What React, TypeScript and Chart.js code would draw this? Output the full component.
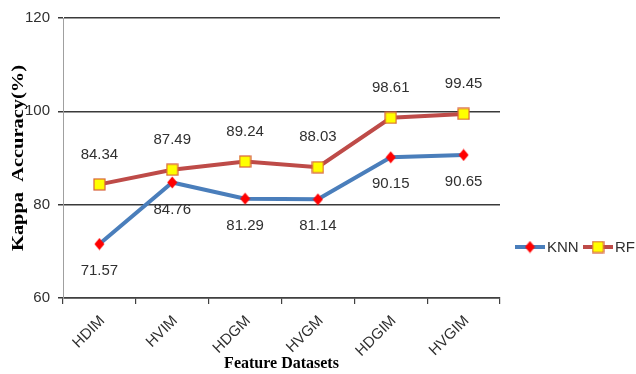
import React, { useEffect, useRef } from "react";
import { Chart, registerables } from "chart.js";

Chart.register(...registerables);

const categories = ["HDIM", "HVIM", "HDGM", "HVGM", "HDGIM", "HVGIM"];
const knnValues = [71.57, 84.76, 81.29, 81.14, 90.15, 90.65];
const rfValues = [84.34, 87.49, 89.24, 88.03, 98.61, 99.45];
const yTicks = [60, 80, 100, 120];

const W = 636;
const H = 374;
const SANS = "'Liberation Sans', Arial, sans-serif";
const SERIF = "'Liberation Serif', 'Times New Roman', serif";
const TEXT = "#303030";
const BLUE = "#4a7ebb";
const RED = "#be4b48";

function makeDiamond(): HTMLCanvasElement {
  const c = document.createElement("canvas");
  c.width = 11;
  c.height = 13;
  const g = c.getContext("2d")!;
  g.fillStyle = "#ff0000";
  g.beginPath();
  g.moveTo(5.5, 0.5);
  g.lineTo(10.5, 6.5);
  g.lineTo(5.5, 12.5);
  g.lineTo(0.5, 6.5);
  g.closePath();
  g.fill();
  return c;
}

function makeSquare(): HTMLCanvasElement {
  const c = document.createElement("canvas");
  c.width = 13;
  c.height = 13;
  const g = c.getContext("2d")!;
  g.fillStyle = "#ffff00";
  g.fillRect(1, 1, 11, 11);
  g.strokeStyle = "#d8603a";
  g.lineWidth = 1.2;
  g.strokeRect(1, 1, 11, 11);
  return c;
}

export default function App() {
  const ref = useRef<HTMLCanvasElement | null>(null);

  useEffect(() => {
    document.body.style.margin = "0";
    const canvas = ref.current;
    if (!canvas) return;
    const diamond = makeDiamond();
    const square = makeSquare();

    const labelsPlugin = {
      id: "valueLabels",
      afterDatasetsDraw(chart: any) {
        const ctx = chart.ctx;
        ctx.save();
        ctx.font = `15px ${SANS}`;
        ctx.fillStyle = TEXT;
        ctx.textAlign = "center";
        ctx.textBaseline = "middle";
        chart.data.datasets.forEach((ds: any, i: number) => {
          const meta = chart.getDatasetMeta(i);
          meta.data.forEach((pt: any, j: number) => {
            const dy = i === 0 ? 27 : -30;
            ctx.fillText(ds.data[j].toFixed(2), pt.x, pt.y + dy);
          });
        });
        ctx.restore();
      },
    };

    const decorPlugin = {
      id: "decor",
      afterDraw(chart: any) {
        const ctx = chart.ctx;
        const area = chart.chartArea;
        ctx.save();
        // axis titles
        ctx.fillStyle = "#000";
        ctx.font = `bold 16px ${SERIF}`;
        ctx.textAlign = "center";
        ctx.textBaseline = "middle";
        ctx.fillText("Feature Datasets", (area.left + area.right) / 2, 364);

        const yTitle = "Kappa  Accuracy(%)";
        ctx.save();
        ctx.translate(19, (area.top + area.bottom) / 2);
        ctx.rotate(-Math.PI / 2);
        const tw = ctx.measureText(yTitle).width;
        ctx.scale(186 / tw, 1);
        ctx.fillText(yTitle, 0, 0);
        ctx.restore();

        // legend
        const ly = 247;
        const entries = [
          { x: 515, color: BLUE, img: diamond, text: "KNN" },
          { x: 583, color: RED, img: square, text: "RF" },
        ];
        ctx.font = `15px ${SANS}`;
        ctx.textAlign = "left";
        ctx.fillStyle = TEXT;
        entries.forEach((e) => {
          ctx.strokeStyle = e.color;
          ctx.lineWidth = 4;
          ctx.beginPath();
          ctx.moveTo(e.x, ly);
          ctx.lineTo(e.x + 30, ly);
          ctx.stroke();
          ctx.drawImage(e.img, e.x + 15 - e.img.width / 2, ly - e.img.height / 2);
          ctx.fillText(e.text, e.x + 32, ly + 1);
        });
        ctx.restore();
      },
    };

    const chart = new Chart(canvas, {
      type: "line",
      data: {
        labels: categories,
        datasets: [
          {
            label: "KNN",
            data: knnValues,
            borderColor: BLUE,
            borderWidth: 4,
            pointStyle: diamond as any,
            pointRadius: 6,
            tension: 0,
          },
          {
            label: "RF",
            data: rfValues,
            borderColor: RED,
            borderWidth: 4,
            pointStyle: square as any,
            pointRadius: 6,
            tension: 0,
          },
        ],
      },
      options: {
        responsive: false,
        animation: false,
        devicePixelRatio: 1,
        layout: { padding: { top: 18, right: 136, left: 0, bottom: 0 } },
        plugins: {
          legend: { display: false },
          tooltip: { enabled: false },
        },
        scales: {
          x: {
            offset: true,
            grid: {
              offset: true,
              drawOnChartArea: false,
              drawTicks: true,
              tickLength: 6,
              color: "#404040",
              lineWidth: 1.2,
            },
            border: { display: true, color: "#404040", width: 1.5 },
            ticks: {
              font: { family: SANS, size: 15 },
              color: TEXT,
              minRotation: 45,
              maxRotation: 45,
              padding: 8,
              labelOffset: 3,
            },
            afterFit(scale: any) {
              scale.height = 76;
            },
          },
          y: {
            min: 60,
            max: 120,
            afterBuildTicks(scale: any) {
              scale.ticks = yTicks.map((v) => ({ value: v }));
            },
            grid: {
              color: "#3a3a3a",
              lineWidth: 1.5,
              drawTicks: true,
              tickLength: 5,
            },
            border: { display: true, color: "#a0a0a0", width: 1 },
            ticks: {
              font: { family: SANS, size: 15 },
              color: TEXT,
              padding: 8,
            },
            afterFit(scale: any) {
              scale.width = 63;
            },
          },
        },
      },
      plugins: [labelsPlugin, decorPlugin],
    });

    return () => chart.destroy();
  }, []);

  return (
    <div style={{ width: W, height: H, background: "#fff" }}>
      <canvas ref={ref} width={W} height={H} style={{ display: "block" }} />
    </div>
  );
}
